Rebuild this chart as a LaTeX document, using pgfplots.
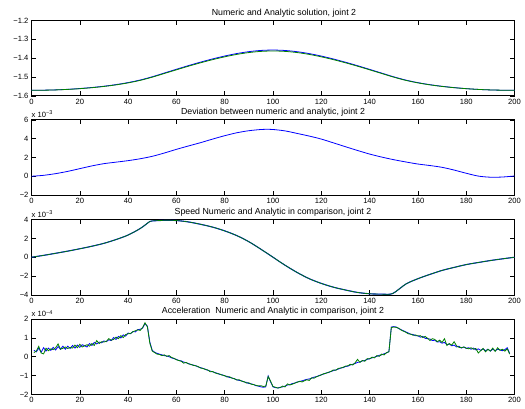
\documentclass[border=0pt]{standalone}
\usepackage{fontspec}
\setmainfont{Liberation Sans}
\usepackage{pgfplots}
\usepackage{pgfplotstable}
\pgfplotsset{compat=1.18}

\definecolor{mblue}{rgb}{0,0,1}
\definecolor{mgreen}{rgb}{0,0.5,0}

% joint position: x, analytic, numeric
\pgfplotstableread{
x a n
0 -1.5708 -1.5708
5 -1.5703 -1.5702
10 -1.5688 -1.5685
15 -1.5661 -1.5656
20 -1.5622 -1.5614
25 -1.5570 -1.5559
30 -1.5504 -1.5491
35 -1.5420 -1.5405
40 -1.5314 -1.5297
45 -1.5181 -1.5162
50 -1.5010 -1.4989
55 -1.4815 -1.4790
60 -1.4620 -1.4591
65 -1.4428 -1.4396
70 -1.4247 -1.4211
75 -1.4080 -1.4041
80 -1.3930 -1.3887
85 -1.3802 -1.3756
90 -1.3703 -1.3655
95 -1.3641 -1.3591
100 -1.3620 -1.3570
105 -1.3641 -1.3593
110 -1.3703 -1.3658
115 -1.3802 -1.3759
120 -1.3930 -1.3890
125 -1.4080 -1.4045
130 -1.4247 -1.4216
135 -1.4428 -1.4401
140 -1.4620 -1.4596
145 -1.4815 -1.4795
150 -1.5010 -1.4992
155 -1.5181 -1.5166
160 -1.5314 -1.5301
165 -1.5420 -1.5409
170 -1.5504 -1.5495
175 -1.5570 -1.5563
180 -1.5622 -1.5619
185 -1.5661 -1.5661
190 -1.5688 -1.5689
195 -1.5703 -1.5704
200 -1.5708 -1.5708
}\postab

% deviation numeric - analytic (x 1e-3)
\pgfplotstableread{
x d
0 0
5 0.10
10 0.28
15 0.52
20 0.81
25 1.10
30 1.34
35 1.50
40 1.66
45 1.86
50 2.12
55 2.47
60 2.86
65 3.22
70 3.57
75 3.95
80 4.31
85 4.62
90 4.84
95 4.97
97 4.99
100 4.97
105 4.82
110 4.55
115 4.27
120 3.95
125 3.55
130 3.14
135 2.74
140 2.36
145 2.04
150 1.76
155 1.52
160 1.30
165 1.14
170 0.95
175 0.66
180 0.32
185 0.02
190 -0.10
195 -0.08
200 0.03
}\devtab

% speed (x 1e-3)
\pgfplotstableread{
x v
0 0
5 0.20
10 0.42
15 0.65
20 0.90
25 1.17
30 1.48
35 1.88
40 2.36
45 3.05
49 3.80
50 3.86
55 3.92
60 3.90
65 3.75
70 3.50
75 3.20
80 2.80
85 2.30
90 1.65
95 0.85
100 0
105 -0.85
110 -1.62
115 -2.28
120 -2.78
125 -3.18
130 -3.48
135 -3.74
140 -3.88
145 -3.92
149.5 -3.86
155 -2.85
160 -2.28
165 -1.82
170 -1.40
175 -1.08
180 -0.78
185 -0.56
190 -0.35
195 -0.17
200 0
}\spdtab

% acceleration (x 1e-4): x, analytic, numeric
\pgfplotstableread{
x g b
1 0.22 0.34
2 0.30 0.26
3 0.55 0.46
4 0.20 0.24
5 0.15 0.48
6 0.45 0.30
7 0.32 0.46
8 0.42 0.34
9 0.38 0.50
10 0.48 0.36
11 0.68 0.54
12 0.40 0.40
13 0.45 0.56
14 0.52 0.40
15 0.44 0.56
16 0.50 0.44
17 0.46 0.60
18 0.62 0.46
19 0.48 0.62
20 0.66 0.50
21 0.52 0.64
22 0.58 0.58
23 0.64 0.52
24 0.56 0.70
25 0.70 0.60
26 0.60 0.76
27 0.86 0.68
28 0.70 0.78
29 0.80 0.74
30 0.78 0.84
31 0.82 0.80
32 0.96 0.90
33 0.88 0.86
34 0.92 1.02
35 1.04 0.92
36 0.96 1.08
37 1.12 1.00
38 1.02 1.16
39 1.18 1.10
40 1.22 1.26
41 1.24 1.22
42 1.33 1.34
43 1.38 1.32
44 1.43 1.44
45 1.40 1.46
46 1.55 1.52
47 1.80 1.76
48 1.58 1.62
49 0.72 0.78
50 0.30 0.34
51 0.22 0.24
52 0.14 0.18
53 0.12 0.14
54 0.06 0.10
55 0.10 0.06
56 0.02 0.04
57 0.06 0.00
58 -0.04 -0.06
59 -0.08 -0.10
60 -0.16 -0.14
61 -0.20 -0.20
62 -0.24 -0.22
63 -0.34 -0.28
64 -0.30 -0.32
65 -0.38 -0.36
66 -0.40 -0.42
67 -0.46 -0.44
68 -0.48 -0.48
69 -0.52 -0.54
70 -0.60 -0.58
71 -0.62 -0.62
72 -0.68 -0.66
73 -0.70 -0.72
74 -0.80 -0.76
75 -0.78 -0.80
76 -0.86 -0.84
77 -0.90 -0.88
78 -0.92 -0.94
79 -0.98 -0.96
80 -1.00 -1.02
81 -1.08 -1.04
82 -1.06 -1.10
83 -1.14 -1.12
84 -1.16 -1.18
85 -1.24 -1.22
86 -1.22 -1.26
87 -1.30 -1.28
88 -1.32 -1.34
89 -1.40 -1.36
90 -1.38 -1.42
91 -1.46 -1.44
92 -1.48 -1.48
93 -1.52 -1.54
94 -1.55 -1.56
95 -1.54 -1.60
96 -1.58 -1.62
97 -1.56 -1.60
98 -1.05 -1.02
99 -1.30 -1.34
100 -1.58 -1.60
101 -1.62 -1.64
102 -1.66 -1.66
103 -1.64 -1.62
104 -1.56 -1.60
105 -1.60 -1.56
106 -1.44 -1.50
107 -1.50 -1.48
108 -1.46 -1.42
109 -1.40 -1.40
110 -1.36 -1.34
111 -1.30 -1.32
112 -1.34 -1.28
113 -1.28 -1.24
114 -1.22 -1.20
115 -1.26 -1.18
116 -1.12 -1.14
117 -1.14 -1.08
118 -1.06 -1.06
119 -1.02 -1.00
120 -0.96 -0.96
121 -0.90 -0.92
122 -0.88 -0.86
123 -0.82 -0.84
124 -0.78 -0.78
125 -0.70 -0.74
126 -0.72 -0.70
127 -0.62 -0.66
128 -0.60 -0.60
129 -0.56 -0.58
130 -0.50 -0.52
131 -0.48 -0.50
132 -0.40 -0.44
133 -0.44 -0.40
134 -0.32 -0.36
135 -0.14 -0.30
136 -0.30 -0.28
137 -0.20 -0.22
138 -0.24 -0.20
139 -0.10 -0.14
140 -0.12 -0.10
141 -0.02 -0.06
142 -0.06 -0.02
143 0.06 0.02
144 0.02 0.08
145 0.14 0.10
146 0.10 0.16
147 0.22 0.20
148 0.26 0.28
149 1.55 1.58
150 1.58 1.60
151 1.56 1.58
152 1.52 1.50
153 1.42 1.44
154 1.36 1.38
155 1.30 1.32
156 1.22 1.26
157 1.20 1.20
158 1.14 1.18
159 1.16 1.12
160 1.10 1.12
161 1.12 1.04
162 1.02 1.08
163 1.08 0.98
164 0.98 0.96
165 0.86 0.94
166 0.96 0.86
167 0.92 0.88
168 0.80 0.78
169 0.88 0.80
170 0.76 0.72
171 0.96 0.76
172 0.60 0.64
173 0.70 0.68
174 0.62 0.58
175 0.80 0.62
176 0.58 0.52
177 0.50 0.56
178 0.48 0.46
179 0.52 0.52
180 0.46 0.44
181 0.42 0.48
182 0.48 0.40
183 0.40 0.46
184 0.44 0.36
185 0.20 0.42
186 0.32 0.34
187 0.44 0.42
188 0.26 0.32
189 0.40 0.40
190 0.30 0.30
191 0.46 0.40
192 0.28 0.32
193 0.48 0.40
194 0.34 0.36
195 0.40 0.32
196 0.30 0.38
197 0.42 0.48
198 0.14 0.18
}\acctab

\pgfplotsset{
  mpanel/.style={
    scale only axis, width=483pt, height=75.3pt, anchor=south west,
    xmin=0, xmax=200, xtick={0,20,...,200},
    axis line style={line width=0.75pt},
    every tick/.style={black, line width=0.5pt},
    major tick length=4.5pt,
    tick align=inside,
    /pgf/number format/assume math mode=true,
    ticklabel style={font=\fontsize{7.6}{8}\selectfont},
    xticklabel style={yshift=0.5pt},
    yticklabel style={xshift=0.5pt},
    title style={font=\fontsize{8.8}{9}\selectfont, yshift=-6pt},
    scaled ticks=false,
    every axis plot/.append style={line width=0.8pt},
  },
  expo/.style={
    after end axis/.append code={
      \node[anchor=south west, inner sep=0pt, font=\fontsize{7.6}{8}\selectfont]
        at (rel axis cs:0,1) [yshift=2pt]
        {x 10\raisebox{0.7ex}{\fontsize{5.5}{6}\selectfont #1}};
    }
  },
}

\begin{document}
\begin{tikzpicture}[x=1pt,y=1pt]

% joint position
\begin{axis}[mpanel, at={(31.5pt,313.2pt)},
  ymin=-1.6, ymax=-1.2, ytick={-1.6,-1.5,-1.4,-1.3,-1.2},
  yticklabels={−1.6,−1.5,−1.4,−1.3,−1.2},
  title={Numeric and Analytic solution, joint 2},
  title style={xshift=11pt}]
\addplot[mblue, smooth] table[x=x, y=n] {\postab};
\addplot[mgreen, smooth] table[x=x, y=a] {\postab};
\end{axis}

% deviation
\begin{axis}[mpanel, at={(31.5pt,213.9pt)}, expo={−3},
  ymin=-2, ymax=6, ytick={-2,0,2,4,6},
  yticklabels={−2,0,2,4,6},
  title={Deviation between numeric and analytic, joint 2}]
\addplot[mblue, smooth] table[x=x, y=d] {\devtab};
\end{axis}

% speed
\begin{axis}[mpanel, at={(31.5pt,114.1pt)}, expo={−3},
  ymin=-4, ymax=4, ytick={-4,-2,0,2,4},
  yticklabels={−4,−2,0,2,4},
  title={Speed Numeric and Analytic in comparison, joint 2}]
\addplot[mblue, smooth, line width=1.1pt] table[x=x, y=v] {\spdtab};
\addplot[mgreen, smooth, line width=0.7pt] table[x=x, y=v] {\spdtab};
\end{axis}

% acceleration
\begin{axis}[mpanel, at={(31.5pt,14.6pt)}, expo={−4},
  ymin=-2, ymax=2, ytick={-2,-1,0,1,2},
  yticklabels={−2,−1,0,1,2},
  title={Acceleration\ \ Numeric and Analytic in comparison, joint 2}]
\addplot[mblue] table[x=x, y=b] {\acctab};
\addplot[mgreen] table[x=x, y=g] {\acctab};
\end{axis}

\pgfresetboundingbox
\useasboundingbox (0,0) rectangle (525,409);
\end{tikzpicture}
\end{document}
